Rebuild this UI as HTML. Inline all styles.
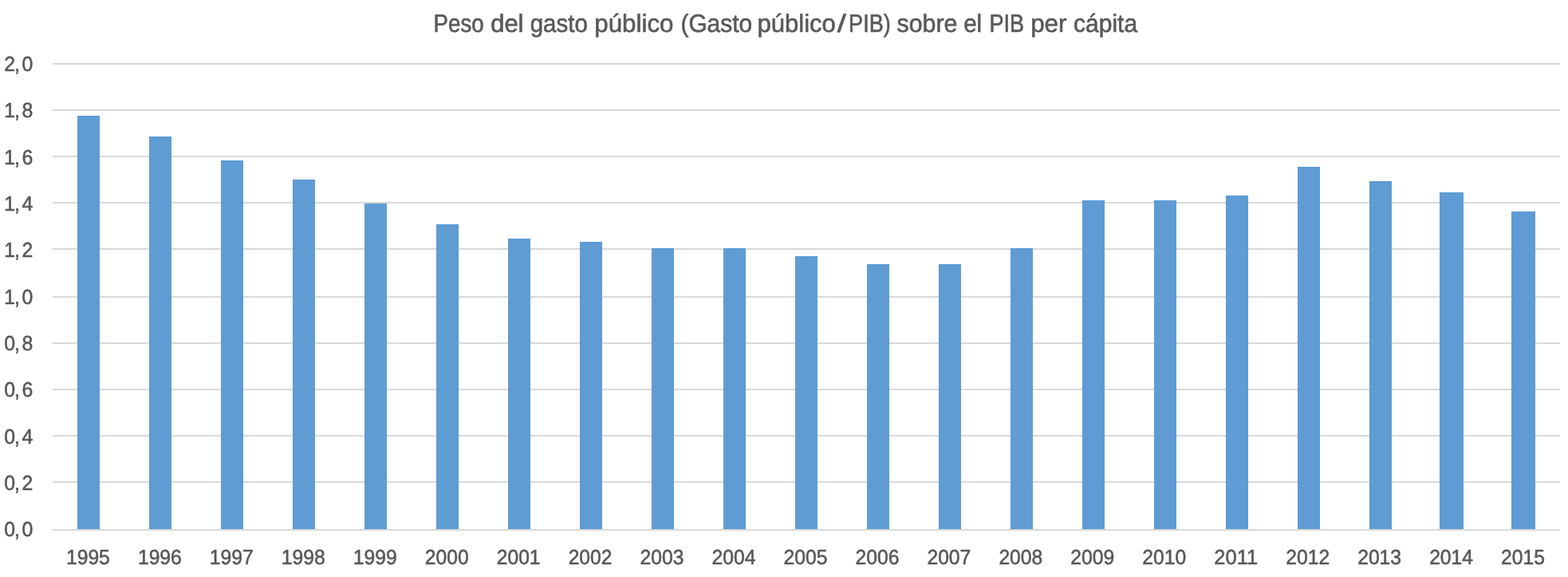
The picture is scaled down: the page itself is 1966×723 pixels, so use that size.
<!DOCTYPE html>
<html lang="es">
<head>
<meta charset="utf-8">
<title>Peso del gasto público (Gasto público/PIB) sobre el PIB per cápita</title>
<style>
html,body{margin:0;padding:0;background:#fff;}
body{width:1966px;height:723px;overflow:hidden;}
svg{display:block;}
text{font-family:"Liberation Sans",sans-serif;fill:#595959;stroke:#595959;stroke-width:0.6px;stroke-linejoin:round;text-rendering:geometricPrecision;}
.ax{font-size:26px;}
.title{font-size:31.4px;}
</style>
</head>
<body>
<svg width="1966" height="723" viewBox="0 0 1966 723">
<rect x="0" y="0" width="1966" height="723" fill="#ffffff"/>
<g stroke="#d9d9d9" stroke-width="2" fill="none">
<line x1="66" y1="80" x2="1956" y2="80"/>
<line x1="66" y1="138" x2="1956" y2="138"/>
<line x1="66" y1="196" x2="1956" y2="196"/>
<line x1="66" y1="254" x2="1956" y2="254"/>
<line x1="66" y1="312" x2="1956" y2="312"/>
<line x1="66" y1="372" x2="1956" y2="372"/>
<line x1="66" y1="430" x2="1956" y2="430"/>
<line x1="66" y1="488" x2="1956" y2="488"/>
<line x1="66" y1="546" x2="1956" y2="546"/>
<line x1="66" y1="604" x2="1956" y2="604"/>
<line x1="66" y1="664" x2="1956" y2="664"/>
</g>
<g fill="#5e9cd3">
<rect x="97" y="145" width="28" height="518"/>
<rect x="187" y="171" width="28" height="492"/>
<rect x="277" y="201" width="28" height="462"/>
<rect x="367" y="225" width="28" height="438"/>
<rect x="457" y="255" width="28" height="408"/>
<rect x="547" y="281" width="28" height="382"/>
<rect x="637" y="299" width="28" height="364"/>
<rect x="727" y="303" width="28" height="360"/>
<rect x="817" y="311" width="28" height="352"/>
<rect x="907" y="311" width="28" height="352"/>
<rect x="997" y="321" width="28" height="342"/>
<rect x="1087" y="331" width="28" height="332"/>
<rect x="1177" y="331" width="28" height="332"/>
<rect x="1267" y="311" width="28" height="352"/>
<rect x="1357" y="251" width="28" height="412"/>
<rect x="1447" y="251" width="28" height="412"/>
<rect x="1537" y="245" width="28" height="418"/>
<rect x="1627" y="209" width="28" height="454"/>
<rect x="1717" y="227" width="28" height="436"/>
<rect x="1805" y="241" width="30" height="422"/>
<rect x="1895" y="265" width="30" height="398"/>
</g>
<g class="ax" transform="scale(0.955,1)">
<text x="5.45 18.95 28.69" y="89.0">2,0</text>
<text x="5.45 18.95 28.69" y="147.3">1,8</text>
<text x="5.45 18.95 28.69" y="205.7">1,6</text>
<text x="5.45 18.95 28.69" y="264.0">1,4</text>
<text x="5.45 18.95 28.69" y="322.3">1,2</text>
<text x="5.45 18.95 28.69" y="380.6">1,0</text>
<text x="5.45 18.95 28.69" y="439.0">0,8</text>
<text x="5.45 18.95 28.69" y="497.3">0,6</text>
<text x="5.45 18.95 28.69" y="555.6">0,4</text>
<text x="5.45 18.95 28.69" y="614.0">0,2</text>
<text x="5.45 18.95 28.69" y="672.3">0,0</text>
</g>
<g class="ax">
<text x="82.95" y="707" textLength="54.9" lengthAdjust="spacingAndGlyphs">1995</text>
<text x="172.91" y="707" textLength="54.9" lengthAdjust="spacingAndGlyphs">1996</text>
<text x="262.86" y="707" textLength="54.9" lengthAdjust="spacingAndGlyphs">1997</text>
<text x="352.82" y="707" textLength="54.9" lengthAdjust="spacingAndGlyphs">1998</text>
<text x="442.78" y="707" textLength="54.9" lengthAdjust="spacingAndGlyphs">1999</text>
<text x="532.73" y="707" textLength="54.9" lengthAdjust="spacingAndGlyphs">2000</text>
<text x="622.69" y="707" textLength="54.9" lengthAdjust="spacingAndGlyphs">2001</text>
<text x="712.65" y="707" textLength="54.9" lengthAdjust="spacingAndGlyphs">2002</text>
<text x="802.61" y="707" textLength="54.9" lengthAdjust="spacingAndGlyphs">2003</text>
<text x="892.56" y="707" textLength="54.9" lengthAdjust="spacingAndGlyphs">2004</text>
<text x="982.52" y="707" textLength="54.9" lengthAdjust="spacingAndGlyphs">2005</text>
<text x="1072.48" y="707" textLength="54.9" lengthAdjust="spacingAndGlyphs">2006</text>
<text x="1162.43" y="707" textLength="54.9" lengthAdjust="spacingAndGlyphs">2007</text>
<text x="1252.39" y="707" textLength="54.9" lengthAdjust="spacingAndGlyphs">2008</text>
<text x="1342.35" y="707" textLength="54.9" lengthAdjust="spacingAndGlyphs">2009</text>
<text x="1432.31" y="707" textLength="54.9" lengthAdjust="spacingAndGlyphs">2010</text>
<text x="1522.26" y="707" textLength="54.9" lengthAdjust="spacingAndGlyphs">2011</text>
<text x="1612.22" y="707" textLength="54.9" lengthAdjust="spacingAndGlyphs">2012</text>
<text x="1702.18" y="707" textLength="54.9" lengthAdjust="spacingAndGlyphs">2013</text>
<text x="1792.13" y="707" textLength="54.9" lengthAdjust="spacingAndGlyphs">2014</text>
<text x="1882.09" y="707" textLength="54.9" lengthAdjust="spacingAndGlyphs">2015</text>
</g>
<text class="title" y="40"><tspan x="543.52" textLength="63.26" lengthAdjust="spacingAndGlyphs">Peso</tspan> <tspan x="615.18" textLength="41.32" lengthAdjust="spacingAndGlyphs">del</tspan> <tspan x="664.72" textLength="72.10" lengthAdjust="spacingAndGlyphs">gasto</tspan> <tspan x="745.31" textLength="99.22" lengthAdjust="spacingAndGlyphs">público</tspan> <tspan x="853.46" textLength="89.57" lengthAdjust="spacingAndGlyphs">(Gasto</tspan> <tspan x="949.46" textLength="98.41" lengthAdjust="spacingAndGlyphs">público</tspan><tspan x="1049.65" textLength="11.20" lengthAdjust="spacingAndGlyphs">/</tspan><tspan x="1064.12" textLength="52.66" lengthAdjust="spacingAndGlyphs">PIB)</tspan> <tspan x="1124.49" textLength="75.88" lengthAdjust="spacingAndGlyphs">sobre</tspan> <tspan x="1208.16" textLength="23.05" lengthAdjust="spacingAndGlyphs">el</tspan> <tspan x="1240.55" textLength="43.61" lengthAdjust="spacingAndGlyphs">PIB</tspan> <tspan x="1292.13" textLength="45.47" lengthAdjust="spacingAndGlyphs">per</tspan> <tspan x="1346.09" textLength="80.00" lengthAdjust="spacingAndGlyphs">cápita</tspan></text>
</svg>
</body>
</html>
